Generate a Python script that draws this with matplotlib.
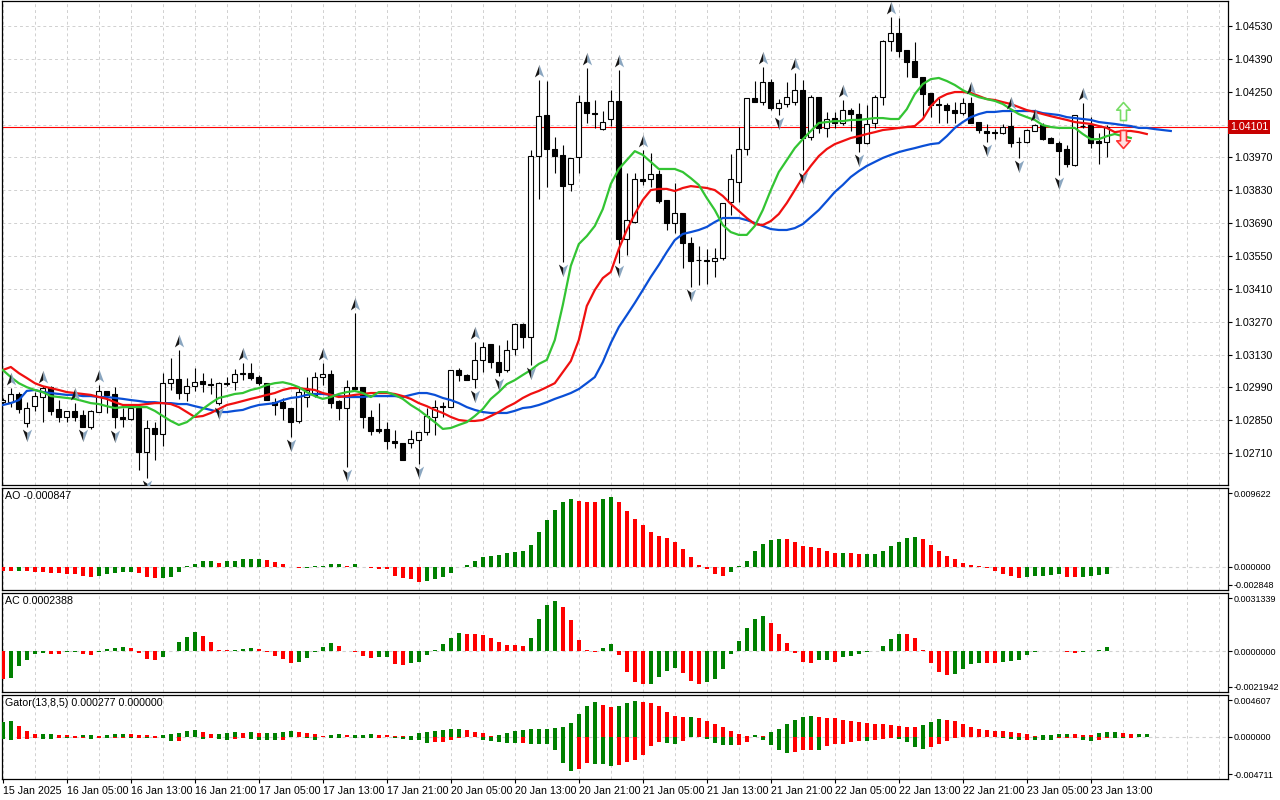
import numpy as np
import matplotlib
matplotlib.use("Agg")
import matplotlib.pyplot as plt
from matplotlib.path import Path

# EURUSD H1, 15 Jan 21:00 .. 23 Jan 15:00 (bar index 0..138)
opens = [
    1.02927, 1.02927, 1.02962, 1.02838, 1.02910, 1.02949, 1.02991, 1.02898, 1.02864, 1.02890,
    1.02873, 1.02821, 1.02885, 1.02975, 1.02962, 1.02864, 1.02856, 1.02902, 1.02714, 1.02817,
    1.02791, 1.03008, 1.03026, 1.02966, 1.02995, 1.03017, 1.03004, 1.02923, 1.03008, 1.03012,
    1.03051, 1.03051, 1.03034, 1.03008, 1.02927, 1.02927, 1.02902, 1.02847, 1.02949, 1.02958,
    1.03034, 1.03047, 1.02932, 1.02902, 1.02991, 1.02991, 1.02864, 1.02813, 1.02813, 1.02762,
    1.02753, 1.02753, 1.02766, 1.02800, 1.02864, 1.02910, 1.02906, 1.03064, 1.03043, 1.03026,
    1.03107, 1.03175, 1.03098, 1.03064, 1.03154, 1.03260, 1.03205, 1.03976, 1.04151, 1.04006,
    1.03981, 1.03857, 1.03972, 1.04206, 1.04159, 1.04092, 1.04134, 1.04211, 1.03622, 1.03694,
    1.03878, 1.03878, 1.03899, 1.03789, 1.03690, 1.03733, 1.03605, 1.03533, 1.03533, 1.03529,
    1.03542, 1.03780, 1.03865, 1.04006, 1.04223, 1.04206, 1.04291, 1.04181, 1.04198, 1.04206,
    1.04257, 1.04057, 1.04227, 1.04096, 1.04138, 1.04117, 1.04172, 1.04155, 1.04031, 1.04117,
    1.04227, 1.04466, 1.04500, 1.04428, 1.04381, 1.04313, 1.04245, 1.04198, 1.04194, 1.04172,
    1.04159, 1.04202, 1.04121, 1.04083, 1.04078, 1.04074, 1.04104, 1.04036, 1.04036, 1.04083,
    1.04108, 1.04053, 1.04031, 1.04006, 1.03938, 1.04104, 1.04108, 1.04040, 1.04036,
]
highs = [
    1.02945, 1.02987, 1.02970, 1.02927, 1.02970, 1.02995, 1.02995, 1.02936, 1.02890, 1.02923,
    1.02894, 1.02894, 1.03000, 1.02975, 1.02991, 1.02902, 1.02915, 1.02902, 1.02851, 1.02842,
    1.03051, 1.03115, 1.03149, 1.03030, 1.03073, 1.03051, 1.03030, 1.03012, 1.03034, 1.03069,
    1.03094, 1.03094, 1.03043, 1.03008, 1.02945, 1.02945, 1.02902, 1.02987, 1.03034, 1.03055,
    1.03094, 1.03064, 1.02936, 1.03021, 1.03307, 1.02991, 1.02894, 1.02923, 1.02842, 1.02808,
    1.02753, 1.02808, 1.02800, 1.02902, 1.02936, 1.02927, 1.03064, 1.03073, 1.03047, 1.03183,
    1.03183, 1.03175, 1.03171, 1.03192, 1.03264, 1.03264, 1.04002, 1.04300, 1.04296, 1.04057,
    1.04023, 1.03968, 1.04236, 1.04351, 1.04215, 1.04168, 1.04257, 1.04343, 1.03903, 1.03903,
    1.04002, 1.03989, 1.03916, 1.03789, 1.03861, 1.03733, 1.03631, 1.03593, 1.03580, 1.03584,
    1.03776, 1.03985, 1.04100, 1.04223, 1.04296, 1.04355, 1.04304, 1.04219, 1.04291, 1.04330,
    1.04300, 1.04236, 1.04227, 1.04164, 1.04164, 1.04215, 1.04181, 1.04202, 1.04194, 1.04236,
    1.04471, 1.04569, 1.04564, 1.04428, 1.04462, 1.04313, 1.04245, 1.04223, 1.04202, 1.04206,
    1.04223, 1.04227, 1.04121, 1.04113, 1.04091, 1.04113, 1.04164, 1.04057, 1.04091, 1.04113,
    1.04117, 1.04057, 1.04040, 1.04023, 1.04151, 1.04202, 1.04142, 1.04074, 1.04108,
]
lows = [
    1.02915, 1.02906, 1.02881, 1.02821, 1.02890, 1.02842, 1.02873, 1.02842, 1.02842, 1.02847,
    1.02821, 1.02813, 1.02885, 1.02881, 1.02817, 1.02821, 1.02851, 1.02638, 1.02604, 1.02681,
    1.02740, 1.02979, 1.02941, 1.02932, 1.02975, 1.02970, 1.02962, 1.02915, 1.02995, 1.02979,
    1.03021, 1.03021, 1.03000, 1.02936, 1.02873, 1.02851, 1.02778, 1.02838, 1.02906, 1.02949,
    1.03000, 1.02902, 1.02851, 1.02651, 1.02983, 1.02817, 1.02787, 1.02795, 1.02728, 1.02732,
    1.02681, 1.02732, 1.02664, 1.02787, 1.02787, 1.02864, 1.02906, 1.03017, 1.03021, 1.02987,
    1.03055, 1.03073, 1.03038, 1.03055, 1.03128, 1.03158, 1.03086, 1.03793, 1.03844, 1.03903,
    1.03525, 1.03827, 1.03903, 1.04117, 1.04096, 1.04087, 1.04104, 1.03520, 1.03555, 1.03690,
    1.03853, 1.03844, 1.03776, 1.03661, 1.03648, 1.03499, 1.03418, 1.03427, 1.03431, 1.03460,
    1.03533, 1.03725, 1.03780, 1.03981, 1.04206, 1.04194, 1.04172, 1.04151, 1.04185, 1.04194,
    1.03916, 1.04044, 1.04074, 1.04057, 1.04096, 1.04108, 1.04083, 1.03993, 1.04027, 1.04096,
    1.04194, 1.04424, 1.04398, 1.04313, 1.04313, 1.04138, 1.04142, 1.04117, 1.04117, 1.04117,
    1.04151, 1.04117, 1.04074, 1.04036, 1.04048, 1.04070, 1.04014, 1.03968, 1.04031, 1.04083,
    1.04044, 1.04031, 1.03895, 1.03929, 1.03934, 1.04096, 1.04010, 1.03942, 1.03972,
]
closes = [
    1.02936, 1.02962, 1.02898, 1.02902, 1.02953, 1.02987, 1.02890, 1.02864, 1.02890, 1.02864,
    1.02821, 1.02890, 1.02975, 1.02958, 1.02864, 1.02856, 1.02902, 1.02714, 1.02817, 1.02791,
    1.03008, 1.03026, 1.02966, 1.02995, 1.03012, 1.03004, 1.03000, 1.03008, 1.03004, 1.03047,
    1.03047, 1.03030, 1.03008, 1.02936, 1.02915, 1.02902, 1.02842, 1.02970, 1.02979, 1.03034,
    1.03047, 1.02923, 1.02902, 1.02991, 1.02983, 1.02864, 1.02804, 1.02804, 1.02762, 1.02753,
    1.02681, 1.02770, 1.02800, 1.02868, 1.02906, 1.02906, 1.03064, 1.03043, 1.03021, 1.03107,
    1.03162, 1.03098, 1.03055, 1.03149, 1.03260, 1.03205, 1.03976, 1.04146, 1.04006, 1.03976,
    1.03848, 1.03968, 1.04206, 1.04159, 1.04155, 1.04121, 1.04211, 1.03622, 1.03703, 1.03878,
    1.03870, 1.03899, 1.03785, 1.03690, 1.03733, 1.03605, 1.03529, 1.03533, 1.03529, 1.03542,
    1.03776, 1.03878, 1.04006, 1.04223, 1.04206, 1.04291, 1.04181, 1.04202, 1.04227, 1.04257,
    1.04053, 1.04227, 1.04096, 1.04134, 1.04117, 1.04172, 1.04155, 1.04031, 1.04113, 1.04227,
    1.04466, 1.04500, 1.04424, 1.04377, 1.04313, 1.04240, 1.04194, 1.04194, 1.04172, 1.04159,
    1.04202, 1.04117, 1.04087, 1.04074, 1.04074, 1.04100, 1.04031, 1.04036, 1.04087, 1.04108,
    1.04048, 1.04031, 1.03998, 1.03942, 1.04151, 1.04104, 1.04031, 1.04031, 1.04101,
]

# Alligator (jaw shifted 8, teeth 5, lips 3 bars forward)
jaw = [
    1.02915, 1.02923, 1.02936, 1.02975, 1.02979, 1.02970, 1.02966, 1.02962, 1.02958, 1.02958,
    1.02953, 1.02953, 1.02949, 1.02949, 1.02945, 1.02941, 1.02936, 1.02932, 1.02927, 1.02927,
    1.02923, 1.02923, 1.02919, 1.02919, 1.02910, 1.02902, 1.02894, 1.02885, 1.02885, 1.02890,
    1.02894, 1.02906, 1.02915, 1.02919, 1.02923, 1.02936, 1.02945, 1.02949, 1.02958, 1.02962,
    1.02962, 1.02958, 1.02953, 1.02949, 1.02949, 1.02949, 1.02953, 1.02953, 1.02953, 1.02953,
    1.02949, 1.02958, 1.02966, 1.02966, 1.02958, 1.02945, 1.02936, 1.02923, 1.02906, 1.02894,
    1.02885, 1.02881, 1.02881, 1.02881, 1.02890, 1.02902, 1.02906, 1.02915, 1.02927, 1.02941,
    1.02953, 1.02966, 1.02983, 1.03008, 1.03034, 1.03098, 1.03179, 1.03247, 1.03298, 1.03350,
    1.03405, 1.03461, 1.03512, 1.03567, 1.03618, 1.03644, 1.03652, 1.03661, 1.03674, 1.03695,
    1.03712, 1.03712, 1.03712, 1.03703, 1.03691, 1.03678, 1.03665, 1.03661, 1.03661, 1.03669,
    1.03686, 1.03716, 1.03746, 1.03784, 1.03823, 1.03853, 1.03887, 1.03912, 1.03934, 1.03951,
    1.03968, 1.03981, 1.03993, 1.04002, 1.04010, 1.04019, 1.04027, 1.04031, 1.04061, 1.04096,
    1.04121, 1.04142, 1.04155, 1.04164, 1.04164, 1.04168, 1.04168, 1.04168, 1.04168, 1.04168,
    1.04159, 1.04155, 1.04151, 1.04142, 1.04138, 1.04134, 1.04130, 1.04121, 1.04117, 1.04113,
    1.04108, 1.04104, 1.04096, 1.04096, 1.04091, 1.04087, 1.04083,
]
teeth = [
    1.03064, 1.03077, 1.03051, 1.03030, 1.03008, 1.02995, 1.02987, 1.02979, 1.02970, 1.02966,
    1.02962, 1.02958, 1.02949, 1.02941, 1.02927, 1.02915, 1.02915, 1.02915, 1.02919, 1.02923,
    1.02923, 1.02919, 1.02906, 1.02885, 1.02864, 1.02868, 1.02881, 1.02898, 1.02915, 1.02923,
    1.02932, 1.02941, 1.02949, 1.02958, 1.02966, 1.02979, 1.02987, 1.02987, 1.02983, 1.02979,
    1.02966, 1.02958, 1.02949, 1.02953, 1.02958, 1.02962, 1.02966, 1.02966, 1.02966, 1.02962,
    1.02953, 1.02941, 1.02923, 1.02910, 1.02894, 1.02881, 1.02864, 1.02851, 1.02847, 1.02847,
    1.02851, 1.02868, 1.02885, 1.02906, 1.02923, 1.02945, 1.02962, 1.02975, 1.02991, 1.03008,
    1.03055, 1.03102, 1.03192, 1.03337, 1.03405, 1.03456, 1.03482, 1.03580, 1.03661, 1.03729,
    1.03789, 1.03831, 1.03836, 1.03836, 1.03827, 1.03840, 1.03848, 1.03844, 1.03840, 1.03831,
    1.03806, 1.03772, 1.03742, 1.03712, 1.03686, 1.03682, 1.03699, 1.03729, 1.03776, 1.03831,
    1.03887, 1.03934, 1.03976, 1.04006, 1.04027, 1.04040, 1.04053, 1.04061, 1.04070, 1.04078,
    1.04087, 1.04091, 1.04096, 1.04100, 1.04104, 1.04134, 1.04189, 1.04223, 1.04240, 1.04249,
    1.04249, 1.04245, 1.04232, 1.04219, 1.04215, 1.04206, 1.04198, 1.04185, 1.04172, 1.04164,
    1.04155, 1.04146, 1.04138, 1.04130, 1.04121, 1.04117, 1.04113, 1.04104, 1.04096, 1.04078,
    1.04083, 1.04083, 1.04078, 1.04070,
]
lips = [
    1.03064, 1.03034, 1.03008, 1.02991, 1.02979, 1.02970, 1.02953, 1.02949, 1.02945, 1.02941,
    1.02932, 1.02923, 1.02919, 1.02910, 1.02902, 1.02906, 1.02906, 1.02906, 1.02906, 1.02890,
    1.02868, 1.02847, 1.02830, 1.02842, 1.02868, 1.02898, 1.02923, 1.02945, 1.02953, 1.02962,
    1.02966, 1.02979, 1.02987, 1.03000, 1.03008, 1.03012, 1.03004, 1.02991, 1.02970, 1.02953,
    1.02941, 1.02949, 1.02962, 1.02970, 1.02975, 1.02966, 1.02949, 1.02970, 1.02970, 1.02958,
    1.02941, 1.02915, 1.02894, 1.02868, 1.02842, 1.02813, 1.02817, 1.02830, 1.02842, 1.02868,
    1.02898, 1.02941, 1.02970, 1.03004, 1.03021, 1.03043, 1.03064, 1.03090, 1.03107, 1.03192,
    1.03341, 1.03508, 1.03601, 1.03635, 1.03678, 1.03750, 1.03857, 1.03921, 1.03959, 1.03997,
    1.03981, 1.03951, 1.03921, 1.03921, 1.03921, 1.03908, 1.03882, 1.03853, 1.03797, 1.03746,
    1.03682, 1.03652, 1.03640, 1.03640, 1.03678, 1.03746, 1.03831, 1.03908, 1.03959, 1.04010,
    1.04048, 1.04083, 1.04117, 1.04121, 1.04125, 1.04125, 1.04130, 1.04130, 1.04134, 1.04138,
    1.04138, 1.04134, 1.04134, 1.04176, 1.04240, 1.04283, 1.04304, 1.04309, 1.04296, 1.04279,
    1.04257, 1.04240, 1.04227, 1.04219, 1.04211, 1.04198, 1.04176, 1.04155, 1.04142, 1.04130,
    1.04108, 1.04100, 1.04096, 1.04096, 1.04096, 1.04070, 1.04048, 1.04048, 1.04061, 1.04070,
    1.04061, 1.04053,
]

# Bill Williams fractals (bar indices)
fractal_up = [1, 5, 9, 12, 22, 30, 40, 44, 59, 67, 73, 77, 80, 95, 99, 105, 111, 121, 126, 129, 135]
fractal_down = [3, 10, 14, 18, 27, 36, 43, 52, 59, 62, 66, 70, 77, 86, 97, 100, 107, 123, 127, 132]

# buy / sell signal arrows
signal_bar = 140
buy_price = 1.04170
sell_price = 1.04049

# oscillators, in units of 1e-4
ao = [
    -5.0, -5.3, -5.2, -5.4, -6.9, -7.0, -8.2, -8.3, -9.4, -9.5,
    -11.0, -12.2, -11.0, -9.0, -8.2, -6.9, -6.5, -8.2, -12.2, -14.3,
    -14.2, -12.2, -6.1, 0.8, 3.7, 6.5, 7.3, 4.9, 7.3, 7.4,
    9.0, 9.8, 9.9, 8.2, 6.1, 3.3, -0.8, -2.0, -1.2, 0.4,
    1.2, 3.3, 3.4, 1.2, 3.3, -0.4, -1.6, -2.4, -2.9, -11.0,
    -14.3, -15.5, -18.4, -17.1, -15.5, -12.2, -7.3, -0.4, 2.4, 6.5,
    11.4, 13.5, 14.7, 17.1, 18.4, 19.6, 26.5, 42.8, 57.1, 69.4,
    79.6, 82.8, 80.8, 79.6, 79.5, 82.8, 85.7, 79.6, 68.5, 58.3,
    51.0, 42.8, 37.9, 34.7, 30.6, 22.0, 12.2, 2.4, -2.9, -9.4,
    -11.0, -6.9, 0.4, 7.3, 19.2, 27.7, 32.6, 33.9, 33.8, 30.6,
    25.7, 24.5, 22.4, 19.6, 16.3, 17.1, 16.3, 15.9, 16.0, 16.1,
    19.6, 25.3, 30.6, 34.7, 36.7, 33.5, 26.5, 19.2, 13.1, 9.0,
    4.9, 2.4, 0.4, -2.0, -5.3, -9.4, -11.0, -13.5, -12.2, -11.0,
    -10.9, -10.2, -9.4, -12.2, -13.1, -12.2, -11.4, -10.2, -8.47,
]
ac = [
    -15.2, -14.3, -8.1, -4.8, -1.3, -0.7, -1.3, -1.4, -0.5, -0.4,
    -1.3, -2.1, -0.2, 1.3, 1.6, 2.1, 1.8, -0.9, -4.1, -4.8,
    -3.2, 0.2, 4.8, 7.7, 10.2, 8.1, 4.8, 0.7, 0.4, 0.9,
    1.3, 1.6, 1.4, -0.5, -2.7, -4.1, -6.3, -5.9, -3.6, -0.2,
    2.5, 4.3, 2.7, 0.2, -0.2, -2.7, -3.6, -3.0, -2.9, -6.8,
    -7.5, -6.3, -5.7, -1.8, 0.4, 3.8, 7.0, 9.7, 9.3, 9.1,
    8.6, 7.0, 4.8, 3.6, 3.2, 2.7, 7.0, 17.5, 24.7, 26.9,
    23.6, 16.6, 5.9, 0.9, -0.4, 2.0, 3.8, -1.8, -11.1, -16.6,
    -17.7, -17.4, -13.8, -10.7, -9.0, -11.6, -15.8, -17.8, -16.5, -14.9,
    -9.5, -1.3, 5.4, 12.5, 17.5, 18.8, 15.2, 9.5, 4.5, -0.9,
    -5.7, -6.3, -4.8, -4.6, -5.7, -3.0, -2.7, -1.4, -0.4, 0.05,
    2.7, 6.6, 9.3, 9.2, 7.0, 0.9, -6.3, -11.1, -12.9, -12.2,
    -9.3, -6.8, -6.3, -6.4, -6.5, -5.9, -5.0, -4.5, -1.8, -0.4,
    0.2, 0.35, 0.0, -0.5, -1.1, -0.4, 0.0, 0.9, 2.388,
]
gator_upper = [
    15.7, 17.2, 11.6, 6.0, 2.6, 2.8, 3.0, 2.2, 1.8, 1.1,
    1.3, 1.5, 0.6, 1.2, 2.6, 2.8, 2.3, 2.0, 1.5, 1.1,
    1.3, 2.6, 3.7, 6.0, 7.1, 4.9, 2.6, 3.0, 3.7, 5.2,
    3.4, 4.9, 3.4, 3.7, 4.1, 4.9, 6.0, 4.5, 3.7, 2.6,
    0.2, 2.2, 2.6, 1.9, 2.0, 2.1, 2.3, 2.1, 1.5, 1.1,
    0.9, 1.0, 3.7, 4.5, 6.0, 7.1, 8.2, 8.3, 6.7, 4.5,
    3.4, 1.1, 2.2, 3.4, 6.0, 7.1, 8.0, 8.2, 8.3, 9.4,
    10.5, 15.0, 24.7, 34.1, 38.6, 35.2, 33.0, 34.1, 37.5, 39.7,
    38.6, 37.5, 34.1, 27.3, 22.8, 21.7, 21.8, 20.6, 17.2, 13.9,
    10.5, 6.0, 2.6, 0.9, 2.2, 0.2, 4.5, 8.2, 13.9, 18.4,
    21.7, 22.8, 21.7, 20.6, 20.4, 18.4, 17.2, 16.1, 15.0, 13.9,
    13.7, 12.7, 11.6, 10.5, 10.3, 12.7, 16.1, 19.5, 18.4, 17.2,
    13.9, 10.5, 8.2, 7.1, 6.0, 5.8, 4.9, 3.7, 2.6, 1.1,
    1.2, 1.3, 2.6, 2.8, 2.4, 2.2, 2.1, 3.4, 4.9, 5.0,
    3.7, 2.6, 2.7, 2.77,
]
# lower gator histogram is drawn below zero; magnitudes here
gator_lower = [
    2.5, 3.7, 3.0, 2.2, 2.0, 2.2, 2.4, 2.0, 2.1, 1.5,
    1.4, 2.2, 2.0, 2.1, 1.5, 1.2, 1.3, 1.2, 1.3, 1.2,
    1.5, 4.9, 4.5, 0.4, 0.3, 2.2, 2.1, 2.3, 3.7, 2.25,
    1.5, 2.25, 3.4, 3.7, 3.8, 3.5, 0.4, 0.3, 1.1, 3.4,
    1.0, 1.1, 1.2, 1.0, 1.1, 1.2, 1.3, 1.1, 1.0, 1.2,
    2.2, 3.7, 4.0, 7.1, 6.0, 5.9, 4.1, 1.1, 0.2, 0.1,
    3.75, 4.9, 6.0, 7.1, 7.2, 7.0, 7.9, 8.0, 8.1, 15.0,
    29.6, 38.6, 36.3, 29.6, 30.0, 30.2, 33.0, 31.8, 28.5, 25.8,
    20.6, 10.5, 6.0, 7.1, 8.2, 4.9, 0.4, 0.3, 2.6, 7.1,
    9.4, 9.5, 9.3, 6.0, 0.4, 3.75, 9.4, 15.0, 18.4, 17.2,
    15.0, 14.9, 15.1, 10.5, 8.2, 8.1, 6.0, 4.9, 5.0, 3.75,
    2.6, 1.5, 2.6, 6.0, 11.6, 13.9, 11.6, 8.2, 4.9, 1.5,
    0.4, 0.3, 0.4, 0.3, 0.2, 1.5, 2.6, 3.75, 3.7, 3.8,
    3.9, 4.0, 1.5, 1.4, 1.3, 3.75, 4.9, 3.75, 1.1, 1.2,
    1.5, 1.1, 0.4, 0.0,
]

time_labels = ['15 Jan 2025', '16 Jan 05:00', '16 Jan 13:00', '16 Jan 21:00', '17 Jan 05:00',
               '17 Jan 13:00', '17 Jan 21:00', '20 Jan 05:00', '20 Jan 13:00', '20 Jan 21:00',
               '21 Jan 05:00', '21 Jan 13:00', '21 Jan 21:00', '22 Jan 05:00', '22 Jan 13:00',
               '22 Jan 21:00', '23 Jan 05:00', '23 Jan 13:00']

price_ticks = [1.02710, 1.02850, 1.02990, 1.03130, 1.03270, 1.03410, 1.03550, 1.03690,
               1.03830, 1.03970, 1.04110, 1.04250, 1.04390, 1.04530]
price_range = (1.02574, 1.04637)
ao_range = (-0.002848, 0.009622)
ac_range = (-0.0021942, 0.0031339)
gator_range = (-0.004711, 0.004607)

GREEN = '#008000'
RED = '#ff0000'
GRID = '#d0d0d0'
FONT = 'Liberation Sans'
FS = 7.7      # price scale and time scale
FS_IND = 6.5  # indicator scales have longer numbers
W, H = 1280, 800
XLIM = (-0.1, 153.15)

plt.rcParams['font.family'] = [FONT, 'DejaVu Sans']


def px_axes(fig, top, bottom, left=2, right=1228):
    """axes placed with pixel coordinates measured from the top-left corner"""
    return fig.add_axes([left / W, 1 - bottom / H, (right - left) / W, (bottom - top) / H])


def updown(vals, first_up=False):
    """MT colouring: green when the value rose against the previous bar"""
    vals = np.asarray(vals)
    up = np.r_[first_up, vals[1:] > vals[:-1]]
    return np.where(up, GREEN, RED)


def style_panel(ax, fs, pad=1.5):
    ax.set_xlim(*XLIM)
    for s in ax.spines.values():
        s.set_linewidth(0.9)
        s.set_color('black')
    ax.tick_params(axis='x', length=0, labelbottom=False)
    ax.yaxis.tick_right()
    ax.tick_params(axis='y', length=3, width=0.8, pad=pad, labelsize=fs, direction='out')
    for gx in range(0, 154, 4):
        ax.axvline(gx, color=GRID, lw=0.7, ls=(0, (3, 3)), zorder=0)


def indicator(ax, lo, hi, digits, title):
    style_panel(ax, FS_IND, pad=1)
    ax.set_ylim(lo, hi)
    inset = 5 / ax.bbox.height * (hi - lo)
    ax.set_yticks([hi - inset, 0.0, lo + inset])
    ax.set_yticklabels(['%.*f' % (digits, v) for v in (hi, 0.0, lo)])
    ax.axhline(0, color=GRID, lw=0.8, ls=(0, (3, 3)), zorder=0)
    ax.text(3 / ax.bbox.width, 1 - 3 / ax.bbox.height, title, transform=ax.transAxes,
            ha='left', va='top', fontsize=FS)


def fractal_marker(up=True):
    s = 1 if up else -1
    left = Path([(0, s), (0, -0.4 * s), (-0.7, -0.9 * s), (0, s)], closed=True)
    right = Path([(0, s), (0.7, -0.9 * s), (0, -0.4 * s), (0, s)], closed=True)
    return left, right


def block_arrow(up=True):
    s = 1 if up else -1
    pts = [(0, s), (0.75, 0.15 * s), (0.33, 0.15 * s), (0.33, -s), (-0.33, -s),
           (-0.33, 0.15 * s), (-0.75, 0.15 * s), (0, s)]
    return Path(pts, closed=True)


fig = plt.figure(figsize=(W / 100, H / 100), dpi=100)
ax = px_axes(fig, 1, 485)
ax_ao = px_axes(fig, 488, 590)
ax_ac = px_axes(fig, 593, 692)
ax_g = px_axes(fig, 695, 779)

# ---- price window
style_panel(ax, FS)
ax.set_ylim(*price_range)
for p in price_ticks:
    ax.axhline(p, color=GRID, lw=0.7, ls=(0, (3, 3)), zorder=0)
last = closes[-1]
ax.set_yticks(price_ticks)
ax.set_yticklabels(['' if abs(p - last) < 0.0003 else '%.5f' % p for p in price_ticks])
ax.axhline(last, color='#ff0000', lw=0.8, zorder=1)
ax.text(1.0015, last, '%.5f' % last, transform=ax.get_yaxis_transform(), ha='left',
        va='center', fontsize=FS, color='white',
        bbox=dict(boxstyle='square,pad=0.18', fc='#c80000', ec='none'))

x = np.arange(len(closes))
o = np.array(opens)
c = np.array(closes)
ax.vlines(x, lows, highs, color='black', lw=0.8, zorder=2)
bull = c >= o
ax.bar(x, np.abs(c - o), bottom=np.minimum(o, c), width=0.6,
       color=np.where(bull, 'white', 'black'), edgecolor='black', linewidth=0.8, zorder=3)

ax.plot(np.arange(len(jaw)), jaw, color='#0a4fd6', lw=1.6, zorder=4)
ax.plot(np.arange(len(teeth)), teeth, color='#f01010', lw=1.6, zorder=4)
ax.plot(np.arange(len(lips)), lips, color='#33c433', lw=1.6, zorder=4)

px = (price_range[1] - price_range[0]) / 484
hi_arr = np.array(highs)
lo_arr = np.array(lows)
for up, idx, ypos in ((True, fractal_up, hi_arr[fractal_up] + 9 * px),
                      (False, fractal_down, lo_arr[fractal_down] - 8 * px)):
    lp, rp = fractal_marker(up)
    ax.scatter(idx, ypos, marker=lp, s=90, color='#151515', linewidths=0, zorder=6)
    ax.scatter(idx, ypos, marker=rp, s=90, color='#8aa6c0', linewidths=0, zorder=6)

ax.plot([signal_bar], [buy_price], marker=block_arrow(True), ms=13, mfc='white',
        mec='#77dd66', mew=1.2, zorder=7)
ax.plot([signal_bar], [sell_price], marker=block_arrow(False), ms=13, mfc='#ffe0e0',
        mec='#ff3333', mew=1.2, zorder=7)

# ---- Awesome oscillator
ao_v = np.array(ao) * 1e-4
indicator(ax_ao, *ao_range, 6, 'AO %.6f' % ao_v[-1])
ax_ao.bar(np.arange(len(ao_v)), ao_v, width=0.55, color=updown(ao_v), linewidth=0, zorder=3)

# ---- Accelerator oscillator
ac_v = np.array(ac) * 1e-4
indicator(ax_ac, *ac_range, 7, 'AC %.7f' % ac_v[-1])
ax_ac.bar(np.arange(len(ac_v)), ac_v, width=0.55, color=updown(ac_v), linewidth=0, zorder=3)

# ---- Gator oscillator
gu = np.array(gator_upper) * 1e-4
gl = -np.array(gator_lower) * 1e-4
indicator(ax_g, *gator_range, 6, 'Gator(13,8,5) %.6f %.6f' % (gu[-1], abs(gl[-1])))
gx = np.arange(len(gu))
ax_g.bar(gx, gu, width=0.55, color=updown(gu, True), linewidth=0, zorder=3)
ax_g.bar(gx, gl, width=0.55, color=updown(np.abs(gl), True), linewidth=0, zorder=3)

# time axis below the last window
ax_g.set_xticks(np.arange(len(time_labels)) * 8)
ax_g.set_xticklabels(time_labels)
ax_g.tick_params(axis='x', length=3, width=0.8, pad=2, labelsize=FS, labelbottom=True)
for lbl in ax_g.get_xticklabels():
    lbl.set_ha('left')

fig.savefig('out.png', dpi=100, facecolor='white')
